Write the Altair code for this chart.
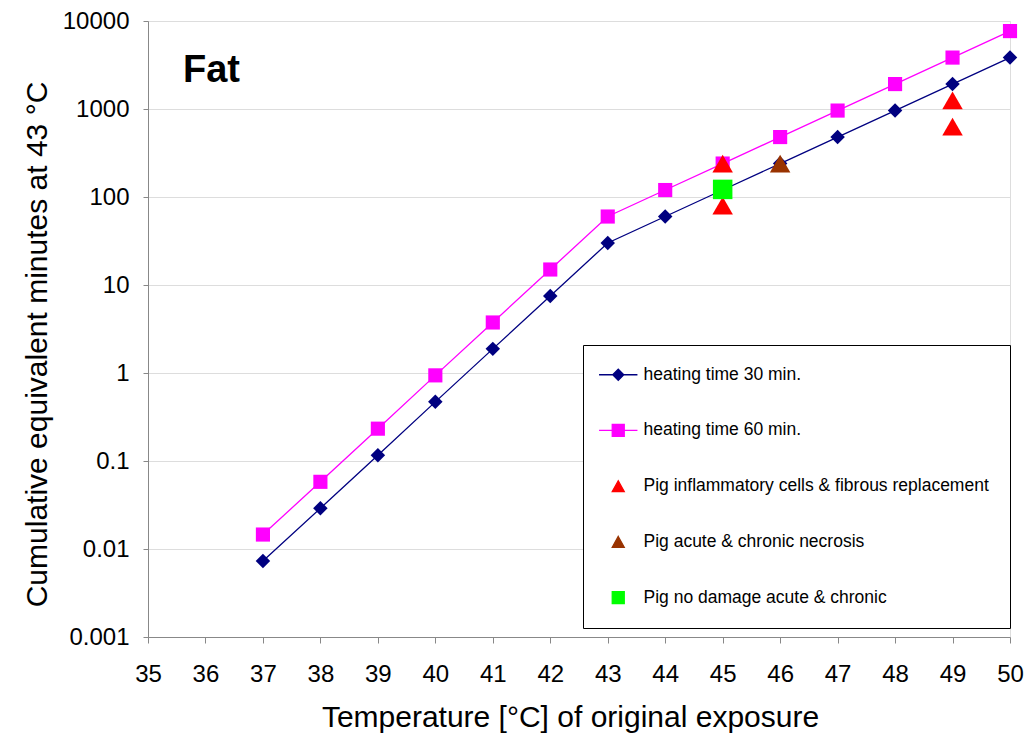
import altair as alt
import pandas as pd

# ---------------- data ----------------
temps = [37, 38, 39, 40, 41, 42, 43, 44, 45, 46, 47, 48, 49, 50]
cem_30 = [0.0073, 0.029, 0.116, 0.47, 1.88, 7.5, 30, 60, 120, 240, 480, 960, 1920, 3840]
cem_60 = [0.0146, 0.058, 0.233, 0.94, 3.75, 15, 60, 120, 240, 480, 960, 1920, 3840, 7680]

inflam_temp = [45, 45, 49, 49]
inflam_cem = [240, 80, 1250, 630]
necro_temp = [46]
necro_cem = [240]
nodmg_temp = [45]
nodmg_cem = [122]

series_names = [
    "heating time 30 min.",
    "heating time 60 min.",
    "Pig inflammatory cells & fibrous replacement",
    "Pig acute & chronic necrosis",
    "Pig no damage acute & chronic",
]
series_colors = ["#000080", "#FF00FF", "#FF0000", "#993300", "#00FF00"]
legend_shapes = [
    "M-3.2,0L3.2,0M-0.92,0L0,-0.92L0.92,0L0,0.92Z",
    "M-3.2,0L3.2,0M-1,-1L1,-1L1,1L-1,1Z",
    "M0,-0.9L1,0.9L-1,0.9Z",
    "M0,-0.9L1,0.9L-1,0.9Z",
    "M-1,-1L1,-1L1,1L-1,1Z",
]

x_ticks = list(range(35, 51))
y_ticks = [0.001, 0.01, 0.1, 1, 10, 100, 1000, 10000]
title_text = ["Fat"]

rows = []
for t, v in zip(temps, cem_30):
    rows.append({"temp": t, "cem": v, "series": series_names[0]})
for t, v in zip(temps, cem_60):
    rows.append({"temp": t, "cem": v, "series": series_names[1]})
for t, v in zip(inflam_temp, inflam_cem):
    rows.append({"temp": t, "cem": v, "series": series_names[2]})
for t, v in zip(necro_temp, necro_cem):
    rows.append({"temp": t, "cem": v, "series": series_names[3]})
for t, v in zip(nodmg_temp, nodmg_cem):
    rows.append({"temp": t, "cem": v, "series": series_names[4]})
df = pd.DataFrame(rows)

FONT = "Liberation Sans"

x_enc = alt.X(
    "temp:Q",
    scale=alt.Scale(domain=[35, 50], nice=False, zero=False),
    axis=alt.Axis(
        values=x_ticks, tickSize=6, labelPadding=19, labelFontSize=24,
        titleFontSize=30, titleFontWeight="normal", titlePadding=16,
        titleX=422, grid=False, labelFlush=False,
        title="Temperature [°C] of original exposure",
    ),
)
y_enc = alt.Y(
    "cem:Q",
    scale=alt.Scale(type="log", domain=[0.001, 10000], nice=False),
    axis=alt.Axis(
        values=y_ticks, format="~g", tickSize=5, labelPadding=14, labelFontSize=24,
        titleFontSize=30, titleFontWeight="normal", titlePadding=10,
        titleY=323, grid=True, labelFlush=False,
        title="Cumulative equivalent minutes at 43 °C",
    ),
)

base = alt.Chart(df)


def sub(i):
    return base.transform_filter(alt.datum.series == series_names[i])


line30 = sub(0).mark_line(color=series_colors[0], strokeWidth=1.3).encode(x=x_enc, y=y_enc)
line60 = sub(1).mark_line(color=series_colors[1], strokeWidth=1.3).encode(x=x_enc, y=y_enc)
pts30 = sub(0).mark_point(shape="diamond", filled=True, size=210, color=series_colors[0], opacity=1).encode(x=x_enc, y=y_enc)
pts60 = sub(1).mark_point(shape="square", filled=True, size=200, color=series_colors[1], opacity=1).encode(x=x_enc, y=y_enc)
inflam = sub(2).mark_point(shape="triangle-up", filled=True, size=420, color=series_colors[2], opacity=1).encode(x=x_enc, y=y_enc)
necro = sub(3).mark_point(shape="triangle-up", filled=True, size=420, color=series_colors[3], opacity=1).encode(x=x_enc, y=y_enc)
nodmg = sub(4).mark_point(shape="square", filled=True, size=380, color=series_colors[4], opacity=1).encode(x=x_enc, y=y_enc)

leg = alt.Legend(
    title=None, orient="none", legendX=435, legendY=324, padding=21,
    symbolSize=144, symbolStrokeWidth=1.3, symbolOpacity=1, symbolOffset=5.5,
    labelOffset=16.5, labelFontSize=17.5, labelFont=FONT, labelColor="black",
    labelLimit=600, rowPadding=36.7, strokeColor="black", fillColor="white",
)

legend_layer = base.mark_point(filled=True, opacity=0).encode(
    x=x_enc,
    y=y_enc,
    color=alt.Color("series:N", scale=alt.Scale(domain=series_names, range=series_colors), legend=leg),
    stroke=alt.Stroke("series:N", scale=alt.Scale(domain=series_names, range=series_colors), legend=leg),
    shape=alt.Shape("series:N", scale=alt.Scale(domain=series_names, range=legend_shapes), legend=leg),
)

fat = alt.Chart(pd.DataFrame({"label": title_text})).mark_text(
    font=FONT, fontSize=38, fontWeight="bold", align="left", baseline="alphabetic", color="black"
).encode(text="label:N", x=alt.value(35), y=alt.value(61))

chart = alt.layer(
    line30, line60, pts30, pts60, legend_layer, inflam, necro, nodmg, fat
).properties(
    width=862, height=616,
    autosize=alt.AutoSizeParams(type="none"),
    padding={"left": 148, "top": 21, "right": 16, "bottom": 99},
).configure_view(
    stroke="#808080", strokeWidth=1
).configure_axis(
    domainColor="black", tickColor="black", gridColor="black", gridWidth=1,
    labelColor="black", titleColor="black", labelFont=FONT, titleFont=FONT,
    titleFontWeight="normal",
).configure(background="white")

chart.save("out.html", embed_options={"renderer": "svg", "actions": False})
